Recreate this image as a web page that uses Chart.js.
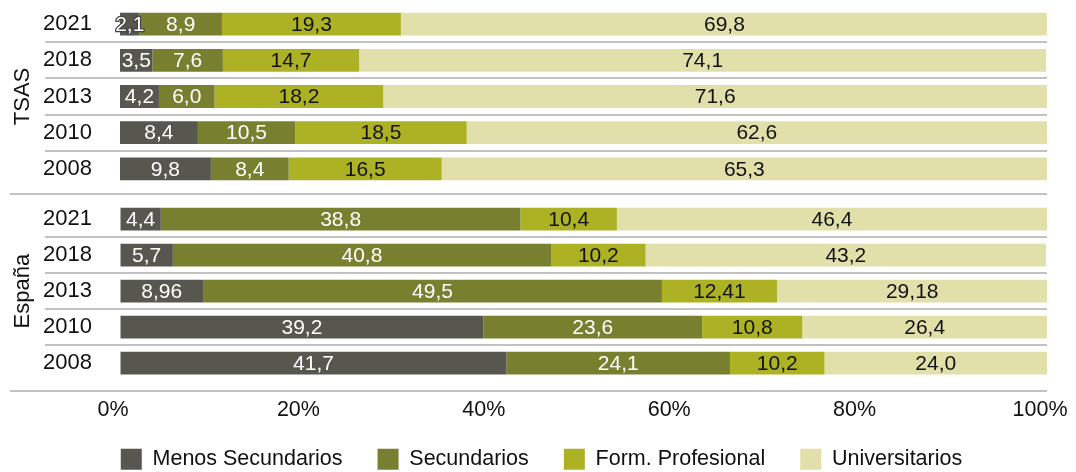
<!DOCTYPE html>
<html lang="es">
<head>
<meta charset="utf-8">
<title>Nivel de estudios</title>
<script src="https://cdn.jsdelivr.net/npm/chart.js@4.4.1/dist/chart.umd.min.js"></script>
<style>
    html, body {
        margin: 0;
        padding: 0;
        background: #ffffff;
        overflow: hidden;
    }
    #lienzo {
        position: relative;
        width: 1076px;
        height: 472px;
    }
    .panel {
        position: absolute;
        left: 0;
        width: 1076px;
    }
    #panelTsas {
        top: 0;
        height: 196px;
    }
    #panelEspana {
        top: 196px;
        height: 284px;
    }
</style>
</head>
<body>
<div id="lienzo">
    <div class="panel" id="panelTsas"><canvas id="grafikTsas"></canvas></div>
    <div class="panel" id="panelEspana"><canvas id="grafikEspana"></canvas></div>
</div>

<script>
// data
const tahun = ["2021", "2018", "2013", "2010", "2008"];
const namaSeri = ["Menos Secundarios", "Secundarios", "Form. Profesional", "Universitarios"];
const warnaSeri = ["#57564f", "#78802f", "#adb124", "#e1e0ab"];
const warnaLabel = ["#ffffff", "#ffffff", "#111111", "#111111"];
const tickX = [0, 20, 40, 60, 80, 100];

const tsasMenos = [2.1, 3.5, 4.2, 8.4, 9.8];
const tsasSecundarios = [8.9, 7.6, 6.0, 10.5, 8.4];
const tsasFP = [19.3, 14.7, 18.2, 18.5, 16.5];
const tsasUniversitarios = [69.8, 74.1, 71.6, 62.6, 65.3];

const espanaMenos = [4.4, 5.7, 8.96, 39.2, 41.7];
const espanaSecundarios = [38.8, 40.8, 49.5, 23.6, 24.1];
const espanaFP = [10.4, 10.2, 12.41, 10.8, 10.2];
const espanaUniversitarios = [46.4, 43.2, 29.18, 26.4, 24.0];

const FONT = "'Liberation Sans', Arial, sans-serif";
Chart.defaults.font.family = FONT;
Chart.defaults.color = "#111111";

function formatAngka(v) {
    const dua = Math.round(v * 100) % 10 !== 0;
    return (dua ? v.toFixed(2) : v.toFixed(1)).replace(".", ",");
}

// label di tengah tiap segmen
const pluginLabel = {
    id: "labelSegmen",
    afterDatasetsDraw(chart) {
        const ctx = chart.ctx;
        ctx.save();
        ctx.font = "21px " + FONT;
        ctx.textAlign = "center";
        ctx.textBaseline = "middle";
        chart.data.datasets.forEach((ds, i) => {
            const meta = chart.getDatasetMeta(i);
            meta.data.forEach((bar, j) => {
                const teks = formatAngka(ds.data[j]);
                const x = (bar.x + bar.base) / 2;
                const y = bar.y + 1;
                const lebar = Math.abs(bar.x - bar.base);
                if (ctx.measureText(teks).width > lebar && warnaLabel[i] === "#ffffff") {
                    ctx.lineWidth = 2.5;
                    ctx.strokeStyle = "#444444";
                    ctx.strokeText(teks, x, y);
                }
                ctx.fillStyle = warnaLabel[i];
                ctx.fillText(teks, x, y);
            });
        });
        ctx.restore();
    },
};

// garis pemisah antar baris dan antar kelompok
const pluginGaris = {
    id: "garisBaris",
    beforeDatasetsDraw(chart, args, opts) {
        const ctx = chart.ctx;
        const skalaY = chart.scales.y;
        const area = chart.chartArea;
        ctx.save();
        ctx.strokeStyle = "#c2c2c2";
        ctx.lineWidth = 2;
        for (let i = 0; i < tahun.length - 1; i++) {
            const y = Math.round((skalaY.getPixelForValue(i) + skalaY.getPixelForValue(i + 1)) / 2);
            ctx.beginPath();
            ctx.moveTo(45, y);
            ctx.lineTo(area.right, y);
            ctx.stroke();
        }
        const yKelompok = Math.round(area.bottom + opts.jarak);
        ctx.beginPath();
        ctx.moveTo(10, yKelompok);
        ctx.lineTo(area.right, yKelompok);
        ctx.stroke();
        ctx.restore();
    },
};

function buatDataset(nilai) {
    return nilai.map((data, i) => ({
        label: namaSeri[i],
        data: data,
        backgroundColor: warnaSeri[i],
        borderWidth: 0,
        barPercentage: 0.63,
        categoryPercentage: 1,
    }));
}

function buatGrafik(canvasId, judul, nilai, bawah) {
    const canvas = document.getElementById(canvasId);

    return new Chart(canvas, {
        type: "bar",
        data: {
            labels: tahun,
            datasets: buatDataset(nilai),
        },
        plugins: [pluginGaris, pluginLabel],
        options: {
            indexAxis: "y",
            responsive: true,
            maintainAspectRatio: false,
            animation: false,
            layout: {
                padding: bawah
                    ? { left: 36, right: 29, top: 5, bottom: 0 }
                    : { left: 36, right: 29, top: 6, bottom: 9 },
            },
            plugins: {
                garisBaris: {
                    jarak: bawah ? 9.5 : 7,
                },
                legend: {
                    display: bawah,
                    position: "bottom",
                    labels: {
                        boxWidth: 21,
                        boxHeight: 21,
                        padding: 35,
                        color: "#111111",
                        font: { size: 21.5 },
                    },
                },
                tooltip: { enabled: false },
            },
            scales: {
                x: {
                    display: bawah,
                    stacked: true,
                    min: 0,
                    max: 100,
                    afterBuildTicks: (skala) => {
                        skala.ticks = tickX.map((v) => ({ value: v }));
                    },
                    grid: {
                        display: true,
                        color: "rgba(0,0,0,0)",
                        drawOnChartArea: false,
                        drawTicks: true,
                        tickLength: 90.25,
                    },
                    border: { display: false },
                    ticks: {
                        mirror: true,
                        padding: -29,
                        labelOffset: -7,
                        color: "#111111",
                        font: { size: 21.5, lineHeight: 0.05 },
                        callback: (v) => v + "%",
                    },
                },
                y: {
                    stacked: true,
                    afterFit: (skala) => {
                        skala.width = 84;
                    },
                    grid: {
                        display: true,
                        color: "rgba(0,0,0,0)",
                        drawOnChartArea: false,
                        drawTicks: true,
                        tickLength: 28,
                    },
                    border: { display: false },
                    title: {
                        display: true,
                        text: judul,
                        color: "#111111",
                        font: { size: 22 },
                        padding: { top: -26, bottom: 0 },
                    },
                    ticks: {
                        padding: 0,
                        autoSkip: false,
                        color: "#111111",
                        font: { size: 22, lineHeight: 0.45 },
                    },
                },
            },
        },
    });
}

document.addEventListener("DOMContentLoaded", () => {
    buatGrafik("grafikTsas", "TSAS",
        [tsasMenos, tsasSecundarios, tsasFP, tsasUniversitarios], false);
    buatGrafik("grafikEspana", "España",
        [espanaMenos, espanaSecundarios, espanaFP, espanaUniversitarios], true);
});
</script>
</body>
</html>
